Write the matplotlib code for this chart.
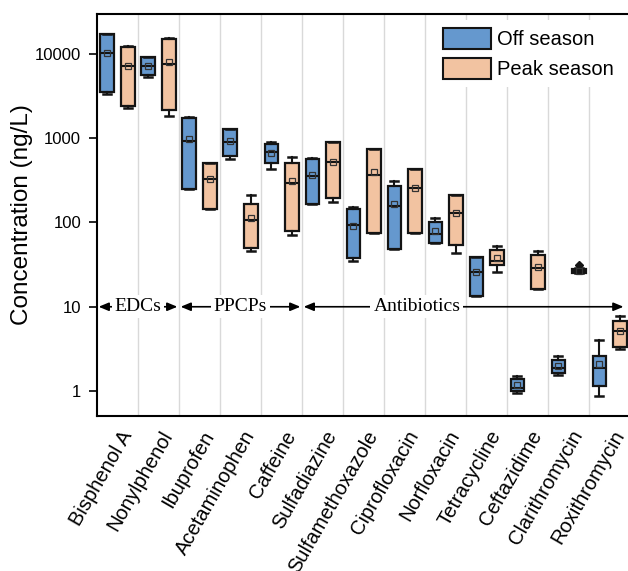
import matplotlib
matplotlib.use("Agg")
import matplotlib.pyplot as plt
import matplotlib.transforms as mtransforms
from matplotlib.patches import Patch

categories = ["Bisphenol A", "Nonylphenol", "Ibuprofen", "Acetaminophen", "Caffeine",
              "Sulfadiazine", "Sulfamethoxazole", "Ciprofloxacin", "Norfloxacin",
              "Tetracycline", "Ceftazidime", "Clarithromycin", "Roxithromycin"]

# Off season
off_whislo = [3300, 5290, 250, 572, 428, 165, 35.2, 48, 56.5, 13.3, 0.96, 1.55, 0.88]
off_q1     = [3520, 5640, 252, 609, 504, 166, 37.9, 49, 56.9, 13.6, 1.0, 1.63, 1.14]
off_med    = [10350, 7080, 933, 901, 687, 360, 94, 156, 73.5, 26.1, 1.10, 1.86, 1.89]
off_q3     = [17000, 9140, 1750, 1295, 861, 568, 144, 272, 100, 38.8, 1.39, 2.31, 2.62]
off_whishi = [17250, 9300, 1760, 1300, 902, 575, 150.6, 314, 112, 39.0, 1.52, 2.64, 3.98]
off_mean   = [10350, 7200, 986, 920, 672, 365, 90, 166, 79, 26.1, 1.19, 2.0, 2.07]

# Peak season
peak_whislo = [2300, 1840, 145, 46, 70.8, 176, 76, 76, 43.4, 25.8, 16.4, 25.4, 3.14]
peak_q1     = [2380, 2170, 145, 50, 78.9, 196, 76, 76, 54.5, 31.6, 16.4, 25.4, 3.29]
peak_med    = [7200, 7550, 329, 106, 295, 523, 363, 258, 130, 35.3, 28.8, 26.5, 5.13]
peak_q3     = [12200, 14900, 509, 166, 504, 892, 745, 428, 210, 46.6, 41.5, 27.8, 6.69]
peak_whishi = [12300, 15300, 512, 210, 593, 900, 750, 432, 214, 53, 45.4, 28.5, 7.87]
peak_mean   = [7200, 8100, 329, 114, 308, 525, 398, 258, 130, 37.8, 29.3, 26.5, 5.2]
peak_fliers = [[], [], [], [], [], [], [], [], [], [], [], [31.0], []]

groups = ["EDCs", "PPCPs", "Antibiotics"]
group_bounds = [(-0.5, 1.5), (1.5, 4.5), (4.5, 12.38)]
group_text_x = [0.5, 3.0, 7.3]

yticks = [1, 10, 100, 1000, 10000]
ytick_labels = ["1", "10", "100", "1000", "10000"]
legend_labels = ["Off season", "Peak season"]

off_color = "#6598CE"
peak_color = "#F2C3A1"

plt.rcParams['font.family'] = ['Liberation Sans', 'DejaVu Sans']

fig = plt.figure(figsize=(6.28, 5.71), dpi=100)
ax = fig.add_axes([97/628, 1 - 416/571, 531/628, 402/571])

n = len(categories)
def stats(wl, q1, md, q3, wh, mn, fl=None):
    out = []
    for i in range(n):
        out.append(dict(whislo=wl[i], q1=q1[i], med=md[i], q3=q3[i], whishi=wh[i],
                        mean=mn[i], fliers=(fl[i] if fl else [])))
    return out

off_stats = stats(off_whislo, off_q1, off_med, off_q3, off_whishi, off_mean)
peak_stats = stats(peak_whislo, peak_q1, peak_med, peak_q3, peak_whishi, peak_mean, peak_fliers)

common = dict(widths=0.32, capwidths=0.2, patch_artist=True, showmeans=True,
              boxprops=dict(linewidth=1.6, edgecolor='#141414'),
              medianprops=dict(color='#141414', linewidth=1.5),
              whiskerprops=dict(color='#141414', linewidth=1.5),
              capprops=dict(color='#141414', linewidth=1.8),
              meanprops=dict(marker='s', markerfacecolor='none', markeredgecolor='#333333',
                             markersize=5, markeredgewidth=0.9),
              flierprops=dict(marker='D', markerfacecolor='#141414', markeredgecolor='#141414',
                              markersize=4.5),
              manage_ticks=False, zorder=3)

b1 = ax.bxp(off_stats, positions=[i - 0.255 for i in range(n)], **common)
b2 = ax.bxp(peak_stats, positions=[i + 0.255 for i in range(n)], **common)
for p in b1['boxes']:
    p.set_facecolor(off_color)
for p in b2['boxes']:
    p.set_facecolor(peak_color)

ax.set_yscale('log')
ax.set_ylim(0.506, 29700)
ax.set_xlim(-0.5, 12.45)

for xv in [i + 0.5 for i in range(n - 1)]:
    ax.axvline(xv, color='#d9d9d9', lw=1.0, zorder=0)

ax.set_yticks(yticks)
ax.set_yticklabels(ytick_labels, fontsize=12)
ax.yaxis.set_minor_locator(matplotlib.ticker.NullLocator())
ax.tick_params(axis='y', direction='out', length=6, width=1.2, pad=5.5)
ax.set_xticks(range(n))
ax.set_xticklabels(categories, rotation=60, ha='right', va='center',
                   rotation_mode='anchor', fontsize=14.5)
ax.tick_params(axis='x', length=0, pad=8)
offset = mtransforms.ScaledTranslation(10/100, -5/100, fig.dpi_scale_trans)
for lbl in ax.get_xticklabels():
    lbl.set_transform(lbl.get_transform() + offset)
ax.set_ylabel("Concentration (ng/L)", fontsize=17.5, labelpad=1)

for s in ['left', 'bottom', 'top']:
    ax.spines[s].set_linewidth(1.5)
ax.spines['right'].set_visible(False)

# group arrows
for g, (x0, x1), tx in zip(groups, group_bounds, group_text_x):
    ax.annotate('', xy=(x1 - 0.04, 10), xytext=(x0 + 0.04, 10),
                arrowprops=dict(arrowstyle='<|-|>,head_length=0.6,head_width=0.25',
                                color='black', lw=1.2, shrinkA=0, shrinkB=0,
                                mutation_scale=10), zorder=4)
    ax.text(tx, 10, g, ha='center', va='center', fontsize=14,
            family=['Liberation Serif', 'DejaVu Serif'], zorder=5,
            bbox=dict(boxstyle='square,pad=0.15', facecolor='white', edgecolor='none'))

handles = [Patch(facecolor=off_color, edgecolor='#141414', linewidth=1.5),
           Patch(facecolor=peak_color, edgecolor='#141414', linewidth=1.5)]
leg = ax.legend(handles, legend_labels, loc='upper right', fontsize=14.5,
                frameon=True, fancybox=False, handlelength=2.4, handleheight=1.2,
                handletextpad=0.3, labelspacing=0.45, borderaxespad=0.3,
                bbox_to_anchor=(1.0, 1.0))
leg.get_frame().set_edgecolor('none')
leg.get_frame().set_facecolor('white')
leg.get_frame().set_alpha(1)
leg.set_zorder(6)

fig.savefig("out.png", dpi=100)
